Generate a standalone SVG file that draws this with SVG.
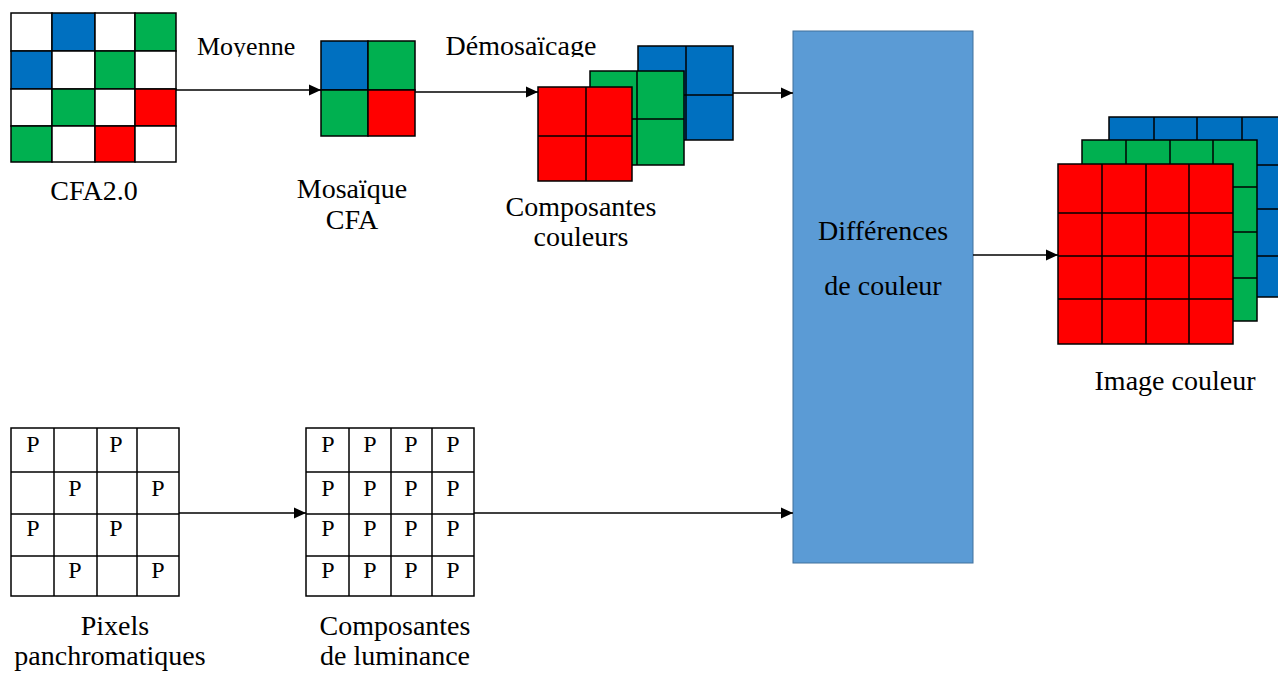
<svg xmlns="http://www.w3.org/2000/svg" width="1278" height="673" viewBox="0 0 1278 673" font-family="'Liberation Serif', 'DejaVu Serif', serif">
<style>
text{font-family:'Liberation Serif','DejaVu Serif',serif;fill:#000;}
.lbl{font-size:28px;text-anchor:middle;}
.sm{font-size:26px;}
.p{font-size:24px;text-anchor:middle;}
.g{stroke:#000;stroke-width:1.5;}
.ln{stroke:#000;stroke-width:1.5;fill:none;}
.B{fill:#0070C0;}
.G{fill:#00B050;}
.R{fill:#FF0000;}
.W{fill:#FFFFFF;}
</style>
<defs>
<marker id="ah" markerWidth="12" markerHeight="12" viewBox="0 0 12 12" refX="12" refY="6" orient="auto" markerUnits="userSpaceOnUse">
<path d="M0,0.5 L12,6 L0,11.5 Z" fill="#000"/>
</marker>
<clipPath id="topclip"><rect x="0" y="0" width="800" height="57"/></clipPath>
</defs>
<rect x="0" y="0" width="1278" height="673" fill="#fff"/>

<g id="cfa20">
<g class="g">
<rect class="W" x="11" y="13" width="41" height="38"/>
<rect class="B" x="52" y="13" width="43" height="38"/>
<rect class="W" x="95" y="13" width="40" height="38"/>
<rect class="G" x="135" y="13" width="41" height="38"/>
<rect class="B" x="11" y="51" width="41" height="38"/>
<rect class="W" x="52" y="51" width="43" height="38"/>
<rect class="G" x="95" y="51" width="40" height="38"/>
<rect class="W" x="135" y="51" width="41" height="38"/>
<rect class="W" x="11" y="89" width="41" height="37"/>
<rect class="G" x="52" y="89" width="43" height="37"/>
<rect class="W" x="95" y="89" width="40" height="37"/>
<rect class="R" x="135" y="89" width="41" height="37"/>
<rect class="G" x="11" y="126" width="41" height="36"/>
<rect class="W" x="52" y="126" width="43" height="36"/>
<rect class="R" x="95" y="126" width="40" height="36"/>
<rect class="W" x="135" y="126" width="41" height="36"/>
</g>
<text class="lbl" x="94" y="200">CFA2.0</text>
</g>

<g id="mosaique">
<g class="g">
<rect class="B" x="321" y="41" width="47" height="49"/>
<rect class="G" x="368" y="41" width="47" height="49"/>
<rect class="G" x="321" y="90" width="47" height="46"/>
<rect class="R" x="368" y="90" width="47" height="46"/>
</g>
<text class="lbl" x="352" y="198">Mosaïque</text>
<text class="lbl" x="352" y="229">CFA</text>
</g>

<g id="composantes-couleurs">
<g class="g">
<rect class="B" x="638" y="46" width="95" height="94"/>
<line x1="686" y1="46" x2="686" y2="140"/>
<line x1="638" y1="95" x2="733" y2="95"/>
<rect class="G" x="590" y="71" width="94" height="94"/>
<line x1="637" y1="71" x2="637" y2="165"/>
<line x1="590" y1="119" x2="684" y2="119"/>
<rect class="R" x="538" y="87" width="94" height="94"/>
<line x1="586" y1="87" x2="586" y2="181"/>
<line x1="538" y1="136" x2="632" y2="136"/>
</g>
<text class="lbl" x="581" y="216">Composantes</text>
<text class="lbl" x="581" y="246">couleurs</text>
</g>

<g id="differences">
<rect x="793" y="31" width="180" height="532" fill="#5B9BD5" stroke="#41719C" stroke-width="1"/>
<text class="lbl" x="883" y="240">Différences</text>
<text class="lbl" x="883" y="295">de couleur</text>
</g>

<g id="image-couleur">
<g class="g">
<rect class="B" x="1109" y="117" width="176" height="180"/>
<line x1="1154" y1="117" x2="1154" y2="140"/>
<line x1="1197" y1="117" x2="1197" y2="140"/>
<line x1="1242" y1="117" x2="1242" y2="297"/>
<line x1="1257" y1="165" x2="1285" y2="165"/>
<line x1="1257" y1="209" x2="1285" y2="209"/>
<line x1="1257" y1="256" x2="1285" y2="256"/>
<rect class="G" x="1082" y="140" width="175" height="181"/>
<line x1="1126" y1="140" x2="1126" y2="164"/>
<line x1="1170" y1="140" x2="1170" y2="164"/>
<line x1="1213" y1="140" x2="1213" y2="164"/>
<line x1="1233" y1="187" x2="1257" y2="187"/>
<line x1="1233" y1="232" x2="1257" y2="232"/>
<line x1="1233" y1="278" x2="1257" y2="278"/>
<rect class="R" x="1058" y="164" width="175" height="180"/>
<line x1="1102" y1="164" x2="1102" y2="344"/>
<line x1="1146" y1="164" x2="1146" y2="344"/>
<line x1="1189" y1="164" x2="1189" y2="344"/>
<line x1="1058" y1="213" x2="1233" y2="213"/>
<line x1="1058" y1="256" x2="1233" y2="256"/>
<line x1="1058" y1="299" x2="1233" y2="299"/>
</g>
<text class="lbl" x="1175" y="390">Image couleur</text>
</g>

<g id="pixels-panchromatiques">
<g class="g" fill="#fff">
<rect x="11" y="428" width="168" height="168"/>
<line x1="54" y1="428" x2="54" y2="596"/>
<line x1="97" y1="428" x2="97" y2="596"/>
<line x1="137" y1="428" x2="137" y2="596"/>
<line x1="11" y1="472" x2="179" y2="472"/>
<line x1="11" y1="514" x2="179" y2="514"/>
<line x1="11" y1="556" x2="179" y2="556"/>
</g>
<text class="p" x="33" y="452">P</text>
<text class="p" x="116" y="452">P</text>
<text class="p" x="75" y="496">P</text>
<text class="p" x="158" y="496">P</text>
<text class="p" x="33" y="536">P</text>
<text class="p" x="116" y="536">P</text>
<text class="p" x="75" y="578">P</text>
<text class="p" x="158" y="578">P</text>
<text class="lbl" x="115" y="635">Pixels</text>
<text class="lbl" x="110" y="665">panchromatiques</text>
</g>

<g id="composantes-luminance">
<g class="g" fill="#fff">
<rect x="306" y="428" width="168" height="168"/>
<line x1="349" y1="428" x2="349" y2="596"/>
<line x1="391" y1="428" x2="391" y2="596"/>
<line x1="432" y1="428" x2="432" y2="596"/>
<line x1="306" y1="472" x2="474" y2="472"/>
<line x1="306" y1="514" x2="474" y2="514"/>
<line x1="306" y1="556" x2="474" y2="556"/>
</g>
<g>
<text class="p" x="328" y="452">P</text><text class="p" x="370" y="452">P</text><text class="p" x="411" y="452">P</text><text class="p" x="453" y="452">P</text>
<text class="p" x="328" y="496">P</text><text class="p" x="370" y="496">P</text><text class="p" x="411" y="496">P</text><text class="p" x="453" y="496">P</text>
<text class="p" x="328" y="536">P</text><text class="p" x="370" y="536">P</text><text class="p" x="411" y="536">P</text><text class="p" x="453" y="536">P</text>
<text class="p" x="328" y="578">P</text><text class="p" x="370" y="578">P</text><text class="p" x="411" y="578">P</text><text class="p" x="453" y="578">P</text>
</g>
<text class="lbl" x="395" y="635">Composantes</text>
<text class="lbl" x="395" y="665">de luminance</text>
</g>

<g id="connectors">
<line class="ln" x1="176" y1="90" x2="321" y2="90" marker-end="url(#ah)"/>
<line class="ln" x1="415" y1="92" x2="538" y2="92" marker-end="url(#ah)"/>
<line class="ln" x1="733" y1="93" x2="793" y2="93" marker-end="url(#ah)"/>
<line class="ln" x1="973" y1="255" x2="1058" y2="255" marker-end="url(#ah)"/>
<line class="ln" x1="179" y1="513" x2="306" y2="513" marker-end="url(#ah)"/>
<line class="ln" x1="474" y1="513" x2="793" y2="513" marker-end="url(#ah)"/>
<g clip-path="url(#topclip)">
<text class="sm" x="197" y="55">Moyenne</text>
<text class="lbl" x="521" y="55">Démosaïcage</text>
</g>
</g>
</svg>
